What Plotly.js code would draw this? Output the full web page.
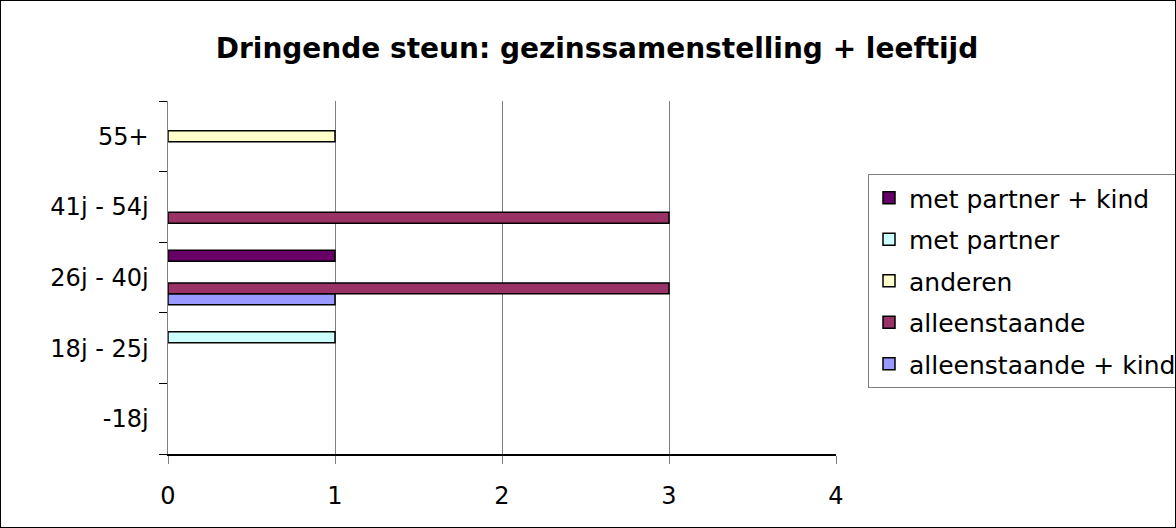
<!DOCTYPE html>
<html><head><meta charset="utf-8">
<script src="https://cdn.plot.ly/plotly-3.0.1.min.js"></script>
<style>html,body{margin:0;padding:0;background:#fff}
#wrap{position:relative;width:1176px;height:528px;overflow:hidden}
#chart{width:1176px;height:528px}
#frame{position:absolute;left:0;top:0;width:1174px;height:526px;border:1px solid #000;pointer-events:none}
</style></head><body>
<div id="wrap"><div id="chart"></div><div id="frame"></div></div>
<script>
const categories = ["-18j", "18j - 25j", "26j - 40j", "41j - 54j", "55+"];
const seriesNames = ["alleenstaande + kind", "alleenstaande", "anderen", "met partner", "met partner + kind"];
const alleenstaandeKind = [0, 0, 1, 0, 0];
const alleenstaande = [0, 0, 3, 3, 0];
const anderen = [0, 0, 0, 0, 1];
const metPartner = [0, 1, 0, 0, 0];
const metPartnerKind = [0, 0, 1, 0, 0];
const seriesValues = [alleenstaandeKind, alleenstaande, anderen, metPartner, metPartnerKind];
const colors = ["#9999FF", "#993366", "#FFFFCC", "#CCFFFF", "#660066"];
const xTicks = [0, 1, 2, 3, 4];

const font = "DejaVu Sans, Verdana, sans-serif";
const traces = seriesNames.map((n, i) => ({
  type: "bar", orientation: "h", name: n, legendgroup: "g" + i,
  legendrank: 1000 - i,
  y: categories, x: seriesValues[i].map(v => v === 0 ? null : v),
  marker: {color: colors[i], line: {color: "#000", width: 1.5}},
  hoverinfo: "x+name"
}));

const layout = {
  width: 1176, height: 528,
  margin: {l: 168, r: 340, t: 101, b: 74, autoexpand: false},
  paper_bgcolor: "#fff", plot_bgcolor: "#fff",
  font: {family: font, size: 24, color: "#000"},
  title: {text: "<b>Dringende steun: gezinssamenstelling + leeftijd</b>",
          font: {family: font, size: 28, color: "#000"},
          x: 597/1176, xanchor: "center", y: 1 - 48/528, yanchor: "middle"},
  barmode: "group", bargap: 0.23, bargroupgap: 0,
  xaxis: {range: [0, 4], tickvals: xTicks, ticktext: xTicks.map(String),
          showgrid: true, gridcolor: "#808080", gridwidth: 1, zeroline: false,
          showline: true, linecolor: "#000", linewidth: 1.5,
          ticks: "outside", ticklen: 8, tickcolor: "#808080", tickwidth: 1,
          ticklabelstandoff: 12, tickfont: {size: 24}, fixedrange: true},
  yaxis: {type: "category", categoryarray: categories, categoryorder: "array",
          range: [-0.5, 4.5], showgrid: false, zeroline: false,
          showline: true, linecolor: "#808080", linewidth: 1.5,
          ticks: "outside", tickson: "boundaries", ticklen: 8, tickcolor: "#000", tickwidth: 1,
          ticklabelstandoff: 13, tickfont: {size: 24}, fixedrange: true},
  legend: {x: (868 - 168) / 668, xanchor: "left", y: (454 - 281) / 353, yanchor: "middle",
           traceorder: "grouped", tracegroupgap: 6,
           bordercolor: "#808080", borderwidth: 1,
           bgcolor: "#fff", font: {size: 25}, itemwidth: 30},
  showlegend: true
};
Plotly.newPlot("chart", traces, layout, {displayModeBar: false, staticPlot: true});
</script></body></html>
